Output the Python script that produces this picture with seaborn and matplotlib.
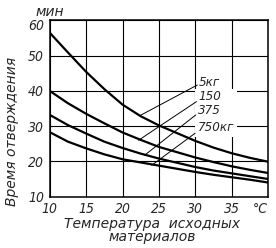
import matplotlib.pyplot as plt
from matplotlib.patches import Rectangle
import seaborn as sns
import pandas as pd

# температура исходных материалов, °C
temps = [10, 12.5, 15, 17.5, 20, 22.5, 25, 27.5, 30, 32.5, 35, 37.5, 40]

# время отверждения, мин (по массе замеса)
t_5 = [56.5, 50.9, 45.4, 40.5, 36.1, 32.8, 30.2, 28.0, 25.8, 23.9, 22.3, 21.0, 19.9]
t_150 = [40.0, 36.5, 33.5, 30.8, 28.2, 26.1, 24.1, 22.6, 21.1, 19.8, 18.6, 17.6, 16.7]
t_375 = [33.2, 30.3, 27.9, 25.6, 23.8, 22.2, 20.8, 19.6, 18.4, 17.4, 16.6, 15.8, 15.0]
t_750 = [28.3, 25.6, 23.7, 22.0, 20.6, 19.7, 18.8, 17.9, 17.0, 16.2, 15.5, 14.8, 14.0]

mass_labels = ["5кг", "150", "375", "750кг"]
x_ticks = [10, 15, 20, 25, 30, 35, 40]
x_tick_labels = ["10", "15", "20", "25", "30", "35", ""]
y_ticks = [10, 20, 30, 40, 50, 60]
y_tick_labels = ["10", "20", "30", "40", "50", ""]

df = pd.DataFrame({
    "T": temps * 4,
    "t": t_5 + t_150 + t_375 + t_750,
    "m": [m for m in mass_labels for _ in temps],
})

sns.set_style("white")
plt.rcParams["font.family"] = ["DejaVu Sans"]
plt.rcParams["font.style"] = "italic"

fig = plt.figure(figsize=(2.76, 2.48), dpi=100)
ax = fig.add_axes([0.18, 0.207, 0.792, 0.711])

sns.lineplot(data=df, x="T", y="t", hue="m", palette=["black"] * 4,
             linewidth=1.6, legend=False, ax=ax, zorder=3)

ax.set_xlim(10, 40)
ax.set_ylim(10, 60)
ax.set_xticks(x_ticks)
ax.set_xticklabels(x_tick_labels, fontstretch="condensed", fontsize=10)
ax.set_yticks(y_ticks)
ax.set_yticklabels(y_tick_labels, fontstretch="condensed", fontsize=10)

# «60» ниже верхней линии (под «мин»), «°C» вместо 40
ax.annotate("60", xy=(0, 60), xycoords=("axes fraction", "data"),
            xytext=(-4, -4), textcoords="offset points", ha="right", va="center",
            fontstretch="condensed", fontsize=10)
ax.annotate("°C", xy=(40, 0), xycoords=("data", "axes fraction"),
            xytext=(-6, -3.6), textcoords="offset points", ha="center", va="top",
            fontstretch="condensed", fontsize=10)

ax.grid(True, color="black", linewidth=0.8)
ax.tick_params(length=0, pad=4)
for s in ax.spines.values():
    s.set_visible(True)
    s.set_color("black")
    s.set_linewidth(1.1)

ax.set_xlabel("Температура  исходных\nматериалов", fontsize=10, linespacing=0.9)
ax.xaxis.set_label_coords(0.47, -0.118)
ax.set_ylabel("Время отверждения", fontsize=10)
ax.yaxis.set_label_coords(-0.14, 0.37)
ax.text(0.0, 1.05, "мин", transform=ax.transAxes, ha="center", va="center", fontsize=10)

# белое поле под подписями кривых
ax.add_patch(Rectangle((29.95, 26.8), 5.8, 13.6, facecolor="white", edgecolor="none", zorder=1))

# выноски
leaders = [((30.27, 41.67), (22.4, 33.0)),
           ((30.14, 36.94), (22.2, 26.0)),
           ((30.05, 33.17), (23.0, 21.7)),
           ((29.96, 27.99), (24.0, 18.9))]
label_pos = [(30.4, 42.3), (30.4, 38.3), (30.4, 34.3), (30.4, 29.7)]
for (start, end), pos, name in zip(leaders, label_pos, mass_labels):
    ax.annotate("", xy=end, xytext=start,
                arrowprops=dict(arrowstyle="-", lw=0.7, color="black", shrinkA=0, shrinkB=0),
                zorder=2.5)
    ax.text(pos[0], pos[1], name, ha="left", va="center", fontstretch="condensed",
            fontsize=9.5, zorder=4)

fig.savefig("out.png", dpi=100)
